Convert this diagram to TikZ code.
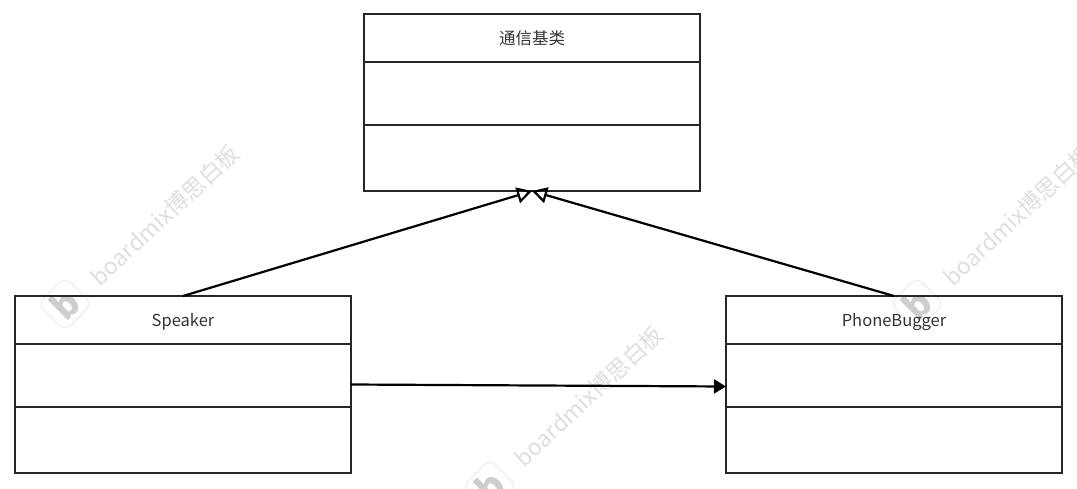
\documentclass[tikz,border=0pt]{standalone}
\usepackage{fontspec}
\setmainfont{Noto Sans CJK SC}
\usetikzlibrary{positioning, arrows.meta}
\definecolor{markgray}{HTML}{DEDEDE}
\definecolor{logogray}{HTML}{CECECE}
\definecolor{labelgray}{HTML}{333333}

\begin{document}
\begin{tikzpicture}[%
  x=1pt,y=-1pt,
  ClassPart/.style={shape=rectangle,draw=black!85,line width=2pt,minimum width=336pt,outer sep=0pt,inner sep=0pt},
  ClassHead/.style={ClassPart,minimum height=48pt,text height=16pt,text depth=4pt,text=labelgray,font=\fontsize{16.5}{18}\selectfont},
  ClassMid/.style={ClassPart,minimum height=63pt},
  ClassLow/.style={ClassPart,minimum height=66pt},
  Inherit/.style={line width=2.2pt,-{Triangle[open,length=15pt,width=16pt,line width=2.2pt]}},
  Assoc/.style={line width=2.2pt,-{Triangle[length=12pt,width=14pt]}},
  MarkText/.style={text=markgray,rotate=43,font=\fontsize{22.8}{24}\selectfont,inner sep=0pt},
  MarkLogo/.style={shape=rectangle,rounded corners=8pt,draw=markgray!60,line width=1pt,rotate=45,minimum size=38pt},
  MarkGlyph/.style={text=logogray,rotate=45,font=\fontsize{36}{36}\selectfont\bfseries,inner sep=0pt}]
  \useasboundingbox (0,0) rectangle (1077,488);
  % watermark first, it stays under the boxes
  \node[MarkText] (mark1) at (165,215) {boardmix博思白板};
  \node[MarkText] (mark2) at (589,396) {boardmix博思白板};
  \node[MarkText] (mark3) at (1018,215) {boardmix博思白板};
  \node[MarkLogo] (logo1) at (65,304) {};
  \node[MarkLogo] (logo2) at (917,304) {};
  \node[MarkLogo] (logo3) at (490,486) {};
  \node[MarkGlyph] (glyph1) at (65,304) {b};
  \node[MarkGlyph] (glyph2) at (917,304) {b};
  \node[MarkGlyph] (glyph3) at (490,486) {b};
  % base class on top
  \node[ClassHead] (basehead) at (532,38) {通信基类};
  \node[ClassMid,below=0pt of basehead] (basemid) {};
  \node[ClassLow,below=0pt of basemid] (baselow) {};
  % speaker, lower left
  \node[ClassHead] (spkhead) at (183,320) {Speaker};
  \node[ClassMid,below=0pt of spkhead] (spkmid) {};
  \node[ClassLow,below=0pt of spkmid] (spklow) {};
  % bugger, lower right
  \node[ClassHead] (bughead) at (894,320) {PhoneBugger};
  \node[ClassMid,below=0pt of bughead] (bugmid) {};
  \node[ClassLow,below=0pt of bugmid] (buglow) {};
  % connector ends on the side of the middle parts
  \coordinate (spkout) at ([yshift=-9pt]spkmid.east);
  \coordinate (bugin) at ([yshift=-11pt]bugmid.west);
  \draw[Inherit] (spkhead.north) -- (baselow.south);
  \draw[Inherit] (bughead.north) -- (baselow.south);
  \draw[Assoc] (spkout) -- (bugin);
\end{tikzpicture}
\end{document}
